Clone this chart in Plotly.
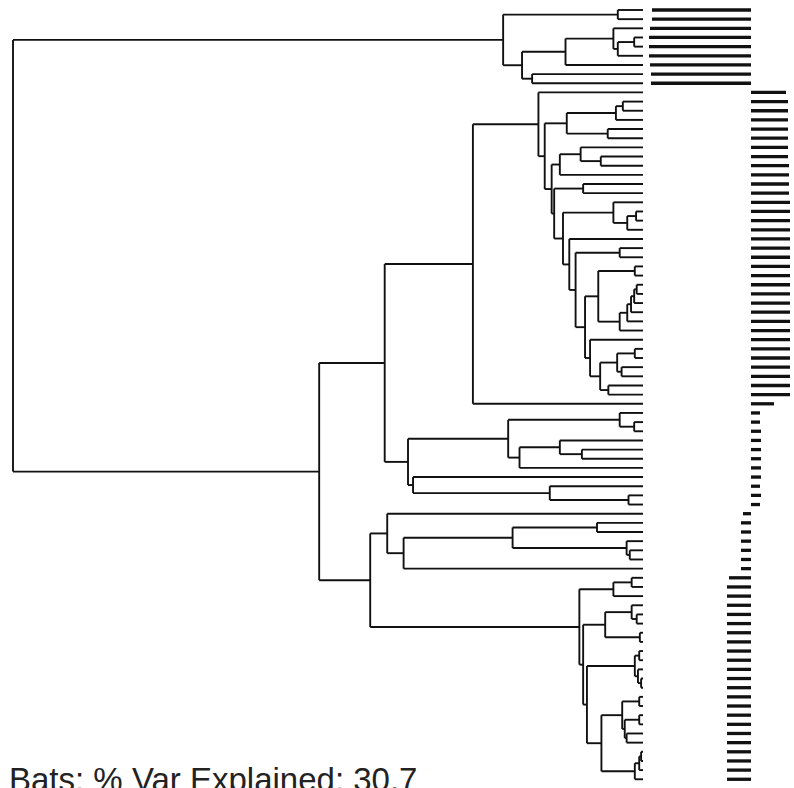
import re
import plotly.graph_objects as go

# ---------------- data ----------------
# Tree topology; number after ")" = node depth (root 0, tips 1)
clade_g1 = "((t0,t1)0.960,(((t2,((t3,t4)0.986,t5)0.960)0.953,t6)0.877,(t7,t8)0.824)0.808)0.778"
clade_r = "(((t10,t11)0.968,t12)0.957,(t13,t14)0.944)0.879"
clade_s1a = "((t15,(t16,t17)0.933)0.901,t18)0.868"
clade_s3a = "(t21,((t22,t23)0.989,t24)0.975)0.953"
clade_e = "((((t30,t31)0.990,t32)0.986,t33)0.981,t34)0.975"
clade_o = "(((t37,t38)0.987,(t39,t40)0.966)0.959,(t41,t42)0.945)0.932"
clade_k = "((t28,t29)0.987,(" + clade_e + ",t35)0.963)0.929"
clade_s5 = "((t26,t27)0.963,(" + clade_k + ",(t36," + clade_o + ")0.916)0.908)0.893"
clade_s3 = "(" + clade_s3a + ",(t25," + clade_s5 + ")0.883)0.873"
clade_q = "(" + clade_r + ",(" + clade_s1a + ",((t19,t20)0.905," + clade_s3 + ")0.859)0.855)0.844"
clade_g2 = "((t9," + clade_q + ")0.834,t43)0.730"
clade_g3 = ("(((t44,(t45,t46)0.986)0.963,((t47,(t48,t49)0.903)0.868,t50)0.804)0.786,"
            "(t51,(t52,(t53,t54)0.977)0.852)0.635)0.627")
clade_g4 = "(t55,(((t56,t57)0.927,(t58,(t59,t60)0.979)0.974)0.793,t61)0.620)0.594"
clade_t1 = "((t62,t63)0.982,t64)0.953"
clade_d = "((t65,(t66,t67)0.990)0.982,(t68,t69)0.995)0.940"
clade_f = "((t70,t71)0.994,(t72,(t73,t74)0.997)0.992)0.987"
clade_h = "((t75,t76)0.994,((t77,t78)0.994,(t79,t80)0.974)0.971)0.967"
clade_i = "(((t81,t82)0.997,t83)0.994,t84)0.987"
clade_g5 = "(" + clade_t1 + ",(" + clade_d + ",(" + clade_f + ",(" + clade_h + "," + clade_i + ")0.934)0.911)0.905)0.899"
tree_newick = ("(" + clade_g1 + ",((" + clade_g2 + "," + clade_g3 + ")0.590,("
               + clade_g4 + "," + clade_g5 + ")0.567)0.486)0.000")

# bar values per tip (t0..t84)
bar_values = ([-99, -99, -101, -102, -102, -102, -101, -100, -100]
              + [35, 37, 37, 37, 37, 37, 37, 37, 38, 38, 38, 38, 39, 39, 39, 39, 39, 39,
                 39, 39, 39, 39, 39, 39, 39, 39, 39, 39, 39, 39, 39, 39, 39, 39, 23]
              + [9, 9, 10, 10, 10, 10, 10, 10, 9, 10, 9]
              + [-8, -10, -10, -10, -10, -10, -10]
              + [-22, -24, -24, -24, -24, -24, -24, -24, -24, -24, -24, -24, -24, -24,
                 -24, -24, -24, -24, -24, -24, -24, -24, -24])
title_text = "Bats: % Var Explained: 30.7"


# ---------------- parse tree ----------------
def parse(s):
    pos = 0

    def node():
        nonlocal pos
        if s[pos] == "(":
            pos += 1
            kids = [node()]
            while s[pos] == ",":
                pos += 1
                kids.append(node())
            pos += 1  # ')'
            m = re.match(r"[0-9.]+", s[pos:])
            pos += len(m.group())
            return {"children": kids, "depth": float(m.group())}
        m = re.match(r"t(\d+)", s[pos:])
        pos += len(m.group())
        return {"tip": int(m.group(1)), "depth": 1.0}

    return node()


root = parse(tree_newick)
xs, ys = [], []


def layout_node(n):
    if "tip" in n:
        n["y"] = n["tip"]
        return
    for c in n["children"]:
        layout_node(c)
    cy = [c["y"] for c in n["children"]]
    n["y"] = sum(cy) / len(cy)
    xs.extend([n["depth"], n["depth"], None])
    ys.extend([min(cy), max(cy), None])
    for c in n["children"]:
        xs.extend([n["depth"], c["depth"], None])
        ys.extend([c["y"], c["y"], None])


layout_node(root)

n_tips = len(bar_values)
tip_px = 9.158

fig = go.Figure()
fig.add_trace(go.Scatter(x=xs, y=ys, mode="lines",
                         line=dict(color="#111111", width=1.9),
                         hoverinfo="skip", showlegend=False))
fig.add_trace(go.Bar(x=bar_values, y=list(range(n_tips)), orientation="h",
                     width=0.36, marker=dict(color="#111111", line=dict(width=0)),
                     xaxis="x2", yaxis="y", showlegend=False, hoverinfo="skip"))

W, H = 794, 788
fig.update_layout(
    width=W, height=H,
    margin=dict(l=0, r=0, t=0, b=0),
    paper_bgcolor="white", plot_bgcolor="white",
    showlegend=False,
    xaxis=dict(domain=[0, 1], range=[-13 / 630, (W - 13) / 630], visible=False),
    xaxis2=dict(domain=[0, 1], range=[-751, W - 751], overlaying="x", anchor="y", visible=False),
    yaxis=dict(range=[(H - 10) / tip_px, -10 / tip_px], visible=False),
    annotations=[dict(text=title_text, xref="paper", yref="paper",
                      x=7 / W, y=1 - 759 / H, xanchor="left", yanchor="top",
                      showarrow=False,
                      font=dict(family="Liberation Sans, Arial", size=33, color="#222222"))],
)
fig.write_html("out.html")
